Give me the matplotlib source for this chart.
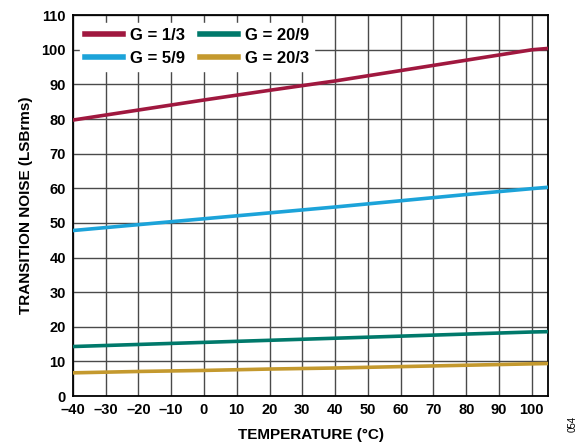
import numpy as np
import matplotlib.pyplot as plt

plt.rcParams['font.family'] = ['Liberation Sans', 'DejaVu Sans']
plt.rcParams['font.weight'] = 'bold'

temp = [-40, -20, 0, 20, 40, 60, 80, 100, 105]
g_1_3 = [79.7, 82.6, 85.5, 88.3, 91.0, 94.0, 97.0, 100.0, 100.4]
g_5_9 = [47.8, 49.5, 51.2, 52.9, 54.6, 56.4, 58.2, 59.9, 60.3]
g_20_9 = [14.3, 14.9, 15.5, 16.1, 16.7, 17.3, 17.9, 18.5, 18.6]
g_20_3 = [6.7, 7.1, 7.4, 7.8, 8.1, 8.5, 8.9, 9.3, 9.4]

series = [("G = 1/3", g_1_3, "#a0183f"),
          ("G = 5/9", g_5_9, "#1ca3d9"),
          ("G = 20/9", g_20_9, "#00796b"),
          ("G = 20/3", g_20_3, "#c4992e")]

xticks = list(range(-40, 101, 10))
yticks = list(range(0, 111, 10))

fig = plt.figure(figsize=(5.87, 4.46), dpi=100)
ax = fig.add_axes([0.124, 0.112, 0.81, 0.854])

# legend order is column-wise: 1/3, 5/9 | 20/9, 20/3
for name, vals, col in series:
    ax.plot(temp, vals, color=col, lw=2.6, label=name, zorder=3)

ax.set_xlim(-40, 105)
ax.set_ylim(0, 110)
ax.set_xticks(xticks)
ax.set_xticklabels([str(t).replace('-', '\u2013') for t in xticks])
ax.set_yticks(yticks)
ax.grid(True, color='#4a4a4a', lw=1.0)
ax.tick_params(length=0, labelsize=10.5, pad=5)
for s in ax.spines.values():
    s.set_linewidth(1.3)
    s.set_color('black')

ax.set_xlabel("TEMPERATURE (°C)", fontsize=11, fontweight='bold', labelpad=8)
ax.set_ylabel("TRANSITION NOISE (LSBrms)", fontsize=11, fontweight='bold', labelpad=6)

leg = ax.legend(ncol=2, loc='upper left', bbox_to_anchor=(0.015, 0.979), frameon=True,
                fontsize=12, handlelength=2.3, columnspacing=0.9, handletextpad=0.4,
                borderaxespad=0, labelspacing=0.45, borderpad=0.3)
leg.get_frame().set_facecolor('white')
leg.get_frame().set_edgecolor('white')
leg.get_frame().set_alpha(1)
leg.get_frame().set_boxstyle('square', pad=0)
for line in leg.get_lines():
    line.set_linewidth(4)

fig.text(0.975, 0.05, "054", rotation=90, fontsize=7, fontweight='normal', ha='center', va='center')

fig.savefig("out.png", dpi=100)
